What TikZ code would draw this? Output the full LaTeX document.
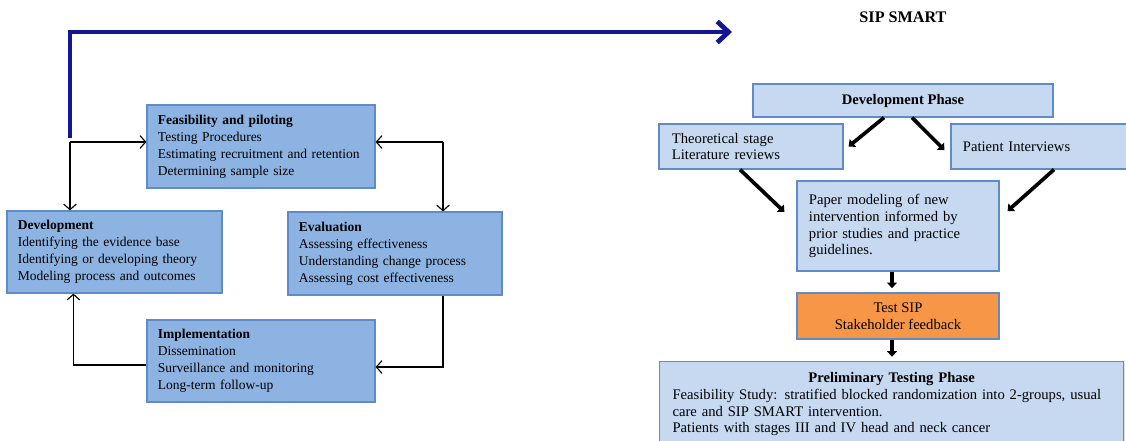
\documentclass[tikz,border=0pt]{standalone}
\usepackage{fontspec}
\setmainfont{Liberation Serif}
\usetikzlibrary{arrows.meta,shadows}

\definecolor{midblue}{RGB}{141,179,226}
\definecolor{paleblue}{RGB}{198,217,241}
\definecolor{edgeblue}{RGB}{95,140,200}
\definecolor{sipnavy}{RGB}{20,20,150}
\definecolor{siporange}{RGB}{247,150,70}

\tikzset{
  boxbase/.style={draw=edgeblue, line width=0.8pt, inner ysep=2pt,
    font=\fontsize{9.6}{12}\selectfont,
    drop shadow={shadow xshift=0.8pt, shadow yshift=-0.8pt, opacity=0.25}},
  stagebox/.style={boxbase, fill=midblue, align=left, inner xsep=0.275cm},
  phasebox/.style={boxbase, fill=paleblue, align=left, inner xsep=0.3cm,
    font=\fontsize{10.4}{12}\selectfont},
  centerbox/.style={phasebox, align=center, inner xsep=2pt},
  thinarrow/.style={-{Straight Barb[length=4pt,width=9pt]}, line width=0.8pt},
  fatarrow/.style={-{Triangle[length=4pt,width=7pt]}, line width=2.6pt},
  bluearrow/.style={-{Straight Barb[length=8pt,width=15pt]}, line width=3.4pt, draw=sipnavy}
}

\begin{document}
\begin{tikzpicture}[x=0.025cm, y=-0.025cm]
    \useasboundingbox (0,0) rectangle (1126,441);
    \clip (0,0) rectangle (1126,441);

    % MRC cycle
    \node[stagebox, text width=5.15cm, minimum height=2.075cm] (feas) at (261,146.5)
        {\textbf{Feasibility and piloting}\\Testing Procedures\\Estimating recruitment and retention\\Determining sample size};
    \node[stagebox, text width=4.825cm, minimum height=2.05cm] (dev) at (114.5,252)
        {\textbf{Development}\\Identifying the evidence base\\Identifying or developing theory\\Modeling process and outcomes};
    \node[stagebox, text width=4.8cm, minimum height=2.075cm] (eval) at (395,253.5)
        {\textbf{Evaluation}\\Assessing effectiveness\\Understanding change process\\Assessing cost effectiveness};
    \node[stagebox, text width=5.15cm, minimum height=2.05cm] (impl) at (261,361)
        {\textbf{Implementation}\\Dissemination\\Surveillance and monitoring\\Long-term follow-up};

    \coordinate (lsplit) at (70,142);
    \coordinate (rsplit) at (443,142);
    \coordinate (sipend) at (732,32);

    \draw[bluearrow] ([yshift=0.1cm]lsplit) |- (sipend);
    \draw[thinarrow] (lsplit) -- (feas.west |- lsplit);
    \draw[thinarrow] (lsplit) -- (dev.north -| lsplit);
    \draw[thinarrow] (rsplit) -- (feas.east |- rsplit);
    \draw[thinarrow] (rsplit) -- (eval.north -| rsplit);
    \draw[thinarrow] (eval.south -| rsplit) |- ([yshift=-0.15cm]impl.east);
    \draw[thinarrow] ([yshift=-0.1cm]impl.west) -| ([xshift=1.675cm]dev.south west);

    % SIP SMART
    \node[font=\fontsize{11.5}{14}\selectfont\bfseries] (title) at (903,17) {SIP SMART};

    \node[centerbox, minimum width=7.5cm, minimum height=0.825cm] (devphase) at (903,100.5)
        {\textbf{Development Phase}};
    \node[phasebox, inner xsep=0.325cm, text width=3.95cm, minimum height=1.125cm] (theory) at (751,146.5)
        {Theoretical stage\\Literature reviews};
    \node[phasebox, text width=4cm, minimum height=1.125cm] (patient) at (1043,146.5)
        {Patient Interviews};
    \node[phasebox, text width=4.45cm, minimum height=2.25cm] (paper) at (898,226)
        {Paper modeling of new\\intervention informed by\\prior studies and practice\\guidelines.};
    \node[centerbox, fill=siporange, minimum width=5.05cm, minimum height=1.15cm] (test) at (898,316)
        {Test SIP\\Stakeholder feedback};
    \node[phasebox, inner xsep=0.325cm, inner ysep=7.5pt, text width=10.95cm, anchor=north west] (prelim) at (659,361)
        {\makebox[10.95cm]{\textbf{Preliminary Testing Phase}}\\Feasibility Study: stratified blocked randomization into 2-groups, usual\\care and SIP SMART intervention.\\Patients with stages III and IV head and neck cancer\\\mbox{}\\\mbox{}};

    \draw[fatarrow] ([xshift=-0.475cm]devphase.south) -- ([xshift=0.125cm]theory.east);
    \draw[fatarrow] ([xshift=0.225cm]devphase.south) -- ([xshift=-0.15cm,yshift=-0.09cm]patient.west);
    \draw[fatarrow] ([xshift=-0.275cm]theory.south) -- ([xshift=-0.3cm,yshift=0.35cm]paper.west);
    \draw[fatarrow] ([xshift=0.275cm]patient.south) -- ([xshift=0.2cm,yshift=0.375cm]paper.east);
    \draw[fatarrow, shorten >=3pt] ([xshift=-0.15cm]paper.south) -- ([xshift=-0.15cm]test.north);
    \draw[fatarrow, shorten >=3pt] ([xshift=-0.15cm]test.south) -- ([xshift=-0.15cm]test.south |- prelim.north);
\end{tikzpicture}
\end{document}
